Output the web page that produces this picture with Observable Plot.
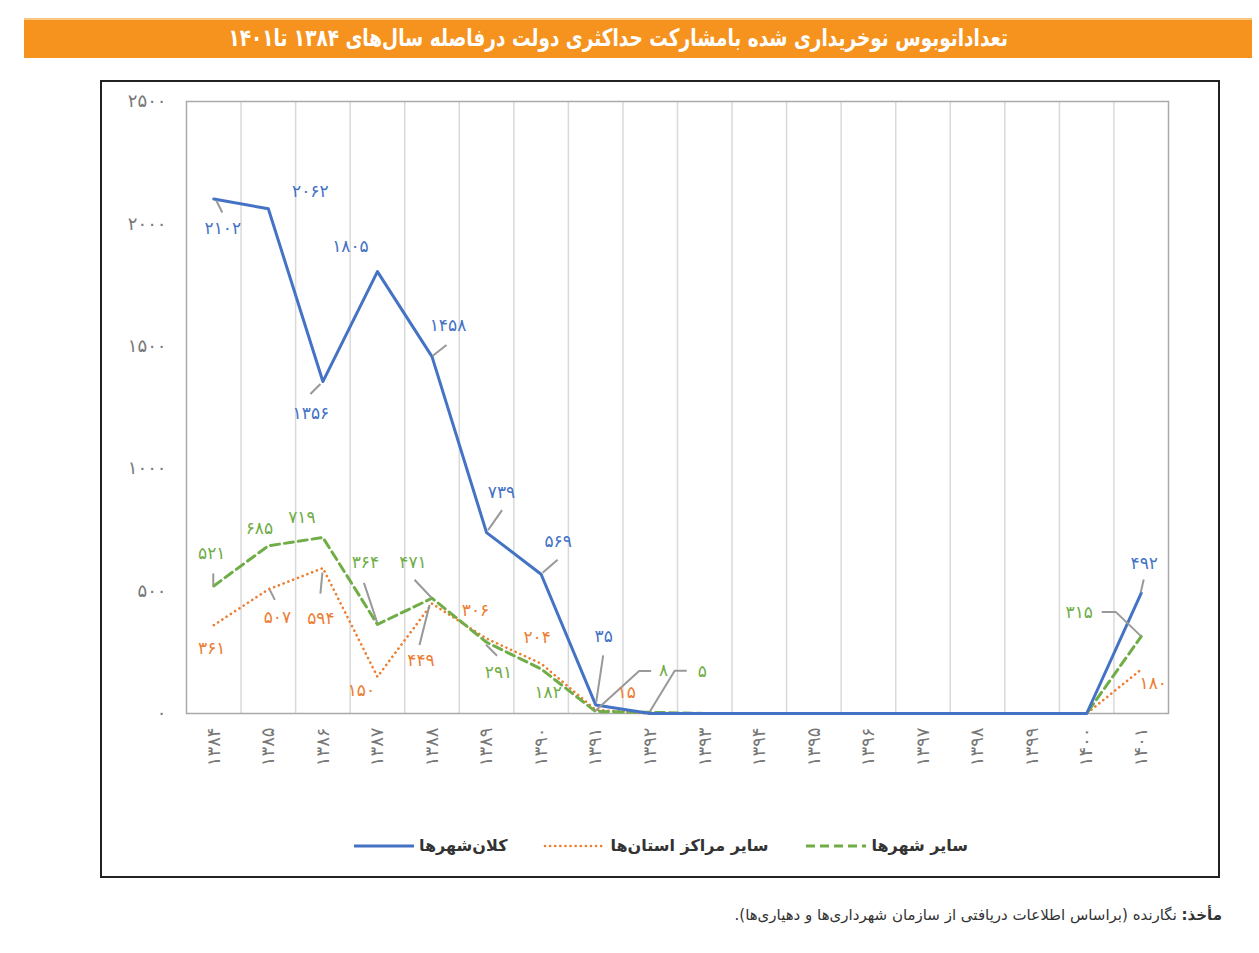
<!DOCTYPE html>
<html lang="fa">
<head>
<meta charset="utf-8">
<script src="https://cdn.jsdelivr.net/npm/d3@7"></script>
<script src="https://cdn.jsdelivr.net/npm/@observablehq/plot@0.6"></script>
<style>
  body { margin: 0; background: #fff; width: 1259px; height: 953px; position: relative; overflow: hidden; font-family: "DejaVu Sans", sans-serif; }
  #title { position: absolute; left: 24px; top: 18px; width: 1228px; height: 40px; background: #F6931F; border-top: 2px solid #F9C784; box-sizing: border-box; color: #fff; font-weight: bold; font-size: 24px; line-height: 36px; text-align: center; direction: rtl; }
  #title span { display: inline-block; transform: scaleX(0.77); transform-origin: center; margin-left: -40px; letter-spacing: -0.5px; }
  #box { position: absolute; left: 100px; top: 80px; width: 1120px; height: 798px; border: 2px solid #222; box-sizing: border-box; }
  #chart { position: absolute; left: 0; top: 0; }
  #legend { position: absolute; left: 0; top: 754px; width: 1116px; display: flex; justify-content: center; direction: rtl; gap: 36px; font-size: 16px; font-weight: bold; color: #333; letter-spacing: -0.5px; }
  .item { display: flex; align-items: center; gap: 3px; }
  #caption { position: absolute; right: 37px; top: 906px; direction: rtl; font-size: 15px; color: #333; }
</style>
</head>
<body>
<div id="title"><span>تعداداتوبوس نوخریداری شده بامشارکت حداکثری دولت درفاصله سال‌های ۱۳۸۴ تا۱۴۰۱</span></div>
<div id="box">
  <div id="chart"></div>
  <div id="legend"></div>
</div>
<div id="caption"><b>مأخذ:</b> نگارنده (براساس اطلاعات دریافتی از سازمان شهرداری‌ها و دهیاری‌ها).</div>
<script>
// ---- data ----
const years = [1384,1385,1386,1387,1388,1389,1390,1391,1392,1393,1394,1395,1396,1397,1398,1399,1400,1401];
const metro = [2102,2062,1356,1805,1458,739,569,35,0,0,0,0,0,0,0,0,0,492];        // کلان‌شهرها
const provCenters = [361,507,594,150,449,306,204,15,0,0,0,0,0,0,0,0,0,180];     // سایر مراکز استان‌ها
const otherCities = [521,685,719,364,471,291,182,8,5,0,0,0,0,0,0,0,0,315];      // سایر شهرها
const seriesNames = ["کلان‌شهرها", "سایر مراکز استان‌ها", "سایر شهرها"];
const yTicks = [0, 500, 1000, 1500, 2000, 2500];

// ---- styling / label layout (pixel offsets from each point) ----
const colors = ["#4472C4", "#ED7D31", "#70AD47"];
const labelLayout = [
  // metro
  [{i:0,dx:9,dy:30,l:[[3,2],[9,14]]},{i:1,dx:42,dy:-17},{i:2,dx:-12,dy:32,l:[[-2,3],[-12,13]]},{i:3,dx:-27,dy:-25},
   {i:4,dx:16,dy:-31,l:[[1,0],[15,-11]]},{i:5,dx:15,dy:-40,l:[[2,-2],[16,-22]]},{i:6,dx:17,dy:-33,l:[[2,-1],[17,-14]]},
   {i:7,dx:8,dy:-68,l:[[1,-2],[8,-49]]},{i:17,dx:3,dy:-30,l:[[0,0],[3,-13]]}],
  // provincial centers
  [{i:0,dx:-2,dy:23},{i:1,dx:9,dy:28,l:[[2,1],[7,11]]},{i:2,dx:-2,dy:50,l:[[0,5],[-2,26]]},{i:3,dx:-16,dy:14},
   {i:4,dx:-11,dy:57,l:[[-2,2],[-12,42]]},{i:5,dx:-11,dy:-28},{i:6,dx:-4,dy:-26},{i:7,dx:31,dy:-17},{i:17,dx:12,dy:14}],
  // other cities
  [{i:0,dx:-2,dy:-32,l:[[0,0],[0,-12]]},{i:1,dx:-9,dy:-17},{i:2,dx:-21,dy:-20},{i:3,dx:-12,dy:-62,l:[[0,-2],[-13,-41]]},
   {i:4,dx:-19,dy:-36,l:[[0,0],[-17,-18]]},{i:5,dx:12,dy:30,l:[[0,3],[11,14]]},{i:6,dx:7,dy:24},
   {i:7,dx:68,dy:-41,l:[[0,0],[44,-40],[56,-40]]},{i:8,dx:52,dy:-41,l:[[0,0],[25,-41],[37,-41]]},
   {i:17,dx:-62,dy:-24,l:[[0,0],[-25,-24],[-39,-24]]}]
];

const fa = v => String(v).replace(/\d/g, d => "۰۱۲۳۴۵۶۷۸۹"[d]);
const allSeries = [metro, provCenters, otherCities];
const rows = (vals, s) => years.map((y, i) => ({year: y, value: vals[i], s}));

const labels = [];
labelLayout.forEach((arr, s) => arr.forEach(o => labels.push({year: years[o.i], value: allSeries[s][o.i], s, ...o})));

function leaders(index, scales) {
  const g = d3.create("svg:g").attr("fill", "none").attr("stroke", "#999").attr("stroke-width", 2);
  for (const d of labels) {
    if (!d.l) continue;
    const px = scales.x(d.year), py = scales.y(d.value);
    g.append("polyline").attr("points", d.l.map(([a, b]) => `${px + a},${py + b}`).join(" "));
  }
  return g.node();
}

const textMarks = labels.map(d => Plot.text([d], {x: "year", y: "value", text: d => fa(d.value), dx: d.dx, dy: d.dy,
    fill: colors[d.s], fontSize: 17, style: "letter-spacing:1.5px"}));

const chart = Plot.plot({
  width: 1116, height: 720,
  marginLeft: 84, marginRight: 50, marginTop: 19, marginBottom: 89,
  style: {fontFamily: "DejaVu Sans, sans-serif", background: "transparent"},
  x: {type: "linear", domain: [years[0] - 0.5, years[years.length - 1] + 0.5], label: null},
  y: {domain: [0, 2500], label: null},
  marks: [
    Plot.ruleX(years.slice(0, -1), {x: d => d + 0.5, stroke: "#d9d9d9", strokeWidth: 1.5}),
    Plot.frame({stroke: "#aaa", strokeWidth: 1.5}),
    Plot.axisY(yTicks, {tickSize: 0, tickPadding: 20, tickFormat: fa, fontSize: 18, fill: "#777", label: null, style: "letter-spacing:3px"}),
    Plot.axisX(years, {tickSize: 0, tickPadding: 14, tickRotate: -90, tickFormat: fa, fontSize: 18, fill: "#777", label: null, style: "letter-spacing:3px"}),
    Plot.line(rows(provCenters, 1), {x: "year", y: "value", stroke: colors[1], strokeWidth: 2.6, strokeDasharray: "0.1,5", strokeLinecap: "round"}),
    Plot.line(rows(otherCities, 2), {x: "year", y: "value", stroke: colors[2], strokeWidth: 3, strokeDasharray: "9,5"}),
    Plot.line(rows(metro, 0), {x: "year", y: "value", stroke: colors[0], strokeWidth: 3}),
    leaders,
    ...textMarks
  ]
});
document.getElementById("chart").appendChild(chart);

// legend (RTL order: other cities on right)
const legendOrder = [2, 1, 0];
const dash = ["", "0.1,5", "9,5"];
const legend = document.getElementById("legend");
for (const s of legendOrder) {
  const item = document.createElement("div");
  item.className = "item";
  const label = document.createElement("span");
  label.textContent = seriesNames[s];
  const sw = d3.create("svg").attr("width", 64).attr("height", 10);
  sw.append("line").attr("x1", 2).attr("x2", 62).attr("y1", 5).attr("y2", 5)
    .attr("stroke", colors[s]).attr("stroke-width", s === 1 ? 2.6 : 3)
    .attr("stroke-dasharray", dash[s] || null).attr("stroke-linecap", s === 1 ? "round" : "butt");
  item.appendChild(label);
  item.appendChild(sw.node());
  legend.appendChild(item);
}
</script>
</body>
</html>
